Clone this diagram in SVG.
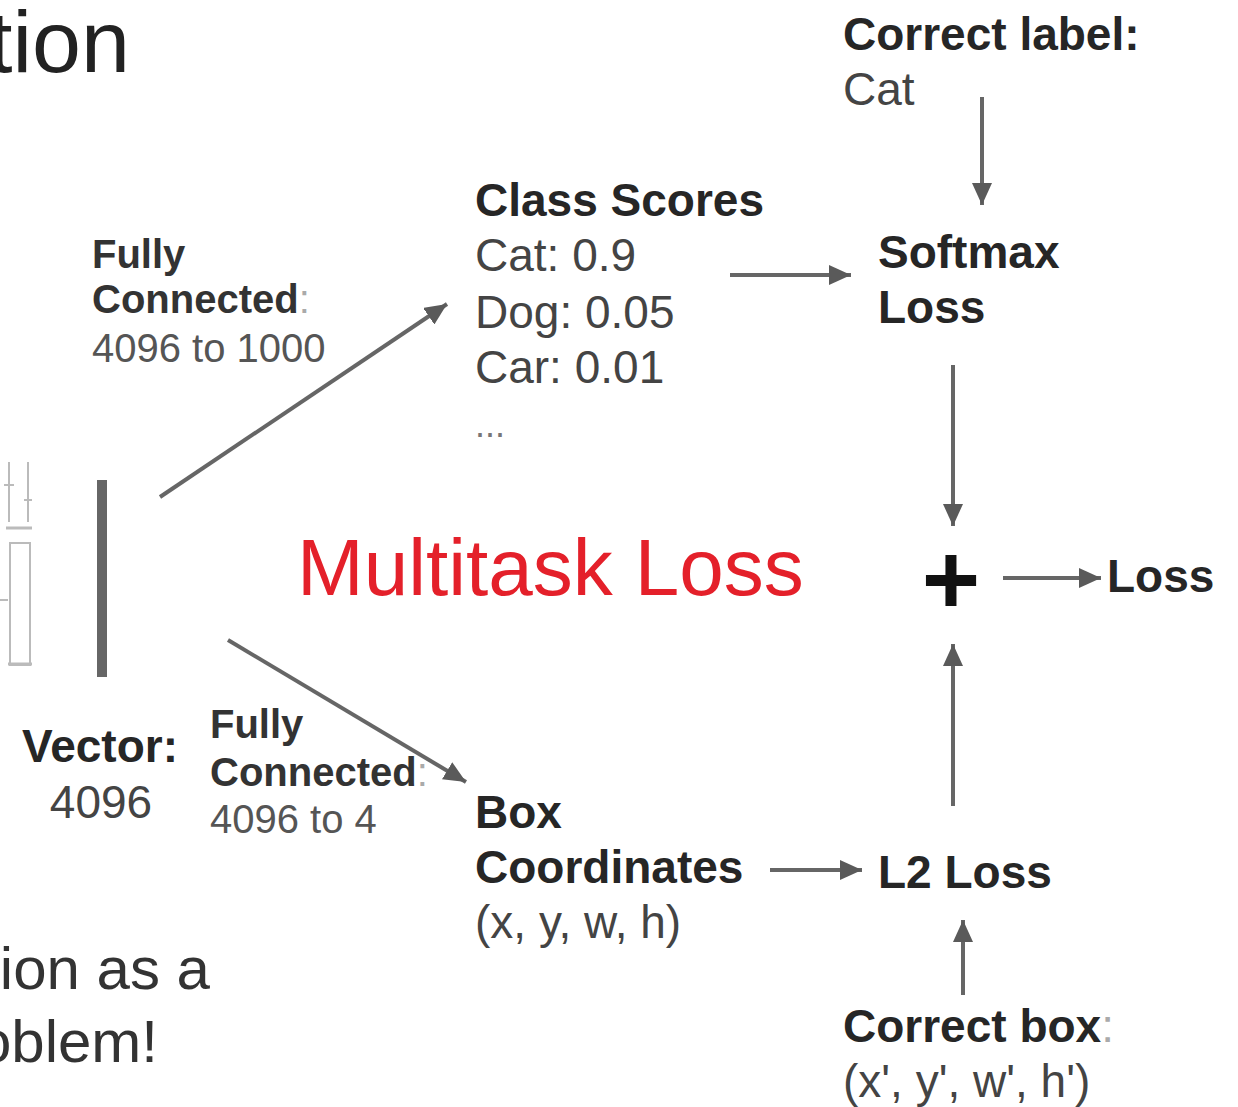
<svg xmlns="http://www.w3.org/2000/svg" width="1238" height="1107" viewBox="0 0 1238 1107">
  <style>
    .b { font-family: "Liberation Sans", Arial, sans-serif; font-weight: bold; fill: #262626; font-size: 46px; }
    .r { font-family: "Liberation Sans", Arial, sans-serif; fill: #444; font-size: 46px; }
    .sb { font-family: "Liberation Sans", Arial, sans-serif; font-weight: bold; fill: #333; font-size: 40px; }
    .sr { font-family: "Liberation Sans", Arial, sans-serif; fill: #555; font-size: 40px; }
    .lc { fill: #aaa; font-weight: normal; }
    .big { font-family: "Liberation Sans", Arial, sans-serif; fill: #222; }
    .arr { stroke: #666; stroke-width: 4; fill: none; marker-end: url(#ah); }
    .thin { stroke: #bbb; stroke-width: 2; fill: none; }
  </style>
  <defs>
    <marker id="ah" markerUnits="userSpaceOnUse" markerWidth="24" markerHeight="20" refX="22" refY="10" orient="auto">
      <path d="M0,0 L22,10 L0,20 z" fill="#5a5a5a"/>
    </marker>
  </defs>
  <rect width="1238" height="1107" fill="#fff"/>

  <g id="slide-text">
    <text class="big" x="130" y="72" font-size="88" text-anchor="end">tion</text>
    <text class="big" x="210" y="989" font-size="60" text-anchor="end" style="fill:#333">ion as a</text>
    <text class="big" x="158" y="1062" font-size="60" text-anchor="end" style="fill:#333">oblem!</text>
  </g>

  <g id="cnn-fragment">
    <line class="thin" x1="9" y1="462" x2="9" y2="522"/>
    <line class="thin" x1="28" y1="462" x2="28" y2="522"/>
    <line class="thin" x1="4" y1="485" x2="14" y2="485"/>
    <line class="thin" x1="24" y1="500" x2="32" y2="500"/>
    <line class="thin" x1="6" y1="528" x2="32" y2="528" style="stroke-width:3"/>
    <rect class="thin" x="10" y="543" width="20" height="122"/>
    <line class="thin" x1="0" y1="600" x2="8" y2="600"/>
    <line class="thin" x1="8" y1="664" x2="32" y2="664" style="stroke-width:3"/>
  </g>

  <g id="vector">
    <rect x="97" y="480" width="10" height="197" fill="#666"/>
    <text class="b" x="22" y="762">Vector:</text>
    <text class="r" x="101" y="818" text-anchor="middle">4096</text>
  </g>

  <g id="fc-top">
    <text class="sb" x="92" y="268">Fully</text>
    <text class="sb" x="92" y="313">Connected<tspan class="lc">:</tspan></text>
    <text class="sr" x="92" y="362">4096 to 1000</text>
  </g>

  <g id="fc-bottom">
    <text class="sb" x="210" y="738">Fully</text>
    <text class="sb" x="210" y="786">Connected<tspan class="lc">:</tspan></text>
    <text class="sr" x="210" y="833">4096 to 4</text>
  </g>

  <g id="class-scores">
    <text class="b" x="475" y="216">Class Scores</text>
    <text class="r" x="475" y="271">Cat: 0.9</text>
    <text class="r" x="475" y="328">Dog: 0.05</text>
    <text class="r" x="475" y="383">Car: 0.01</text>
    <text class="r" x="475" y="437" style="font-size:36px;fill:#777">...</text>
  </g>

  <g id="box-coordinates">
    <text class="b" x="475" y="828">Box</text>
    <text class="b" x="475" y="883">Coordinates</text>
    <text class="r" x="475" y="938">(x, y, w, h)</text>
  </g>

  <g id="correct-label">
    <text class="b" x="843" y="50">Correct label:</text>
    <text class="r" x="843" y="105">Cat</text>
  </g>

  <g id="softmax-loss">
    <text class="b" x="878" y="268">Softmax</text>
    <text class="b" x="878" y="323">Loss</text>
  </g>

  <g id="plus">
    <text class="big" x="951" y="614" font-size="100" font-weight="bold" text-anchor="middle" style="fill:#111">+</text>
  </g>

  <g id="loss">
    <text class="b" x="1107" y="592">Loss</text>
  </g>

  <g id="l2-loss">
    <text class="b" x="878" y="888">L2 Loss</text>
  </g>

  <g id="correct-box">
    <text class="b" x="843" y="1042">Correct box<tspan class="lc">:</tspan></text>
    <text class="r" x="843" y="1097">(x', y', w', h')</text>
  </g>

  <g id="title">
    <text x="297" y="595" font-family="Liberation Sans, Arial, sans-serif" font-size="80" fill="#e4202a">Multitask Loss</text>
  </g>

  <g id="connectors">
    <line class="arr" x1="160" y1="497" x2="447" y2="304"/>
    <line class="arr" x1="228" y1="640" x2="466" y2="782"/>
    <line class="arr" x1="730" y1="275" x2="851" y2="275"/>
    <line class="arr" x1="982" y1="97" x2="982" y2="205"/>
    <line class="arr" x1="953" y1="365" x2="953" y2="526"/>
    <line class="arr" x1="1003" y1="578" x2="1101" y2="578"/>
    <line class="arr" x1="953" y1="806" x2="953" y2="644"/>
    <line class="arr" x1="770" y1="870" x2="862" y2="870"/>
    <line class="arr" x1="963" y1="995" x2="963" y2="920"/>
  </g>
</svg>
